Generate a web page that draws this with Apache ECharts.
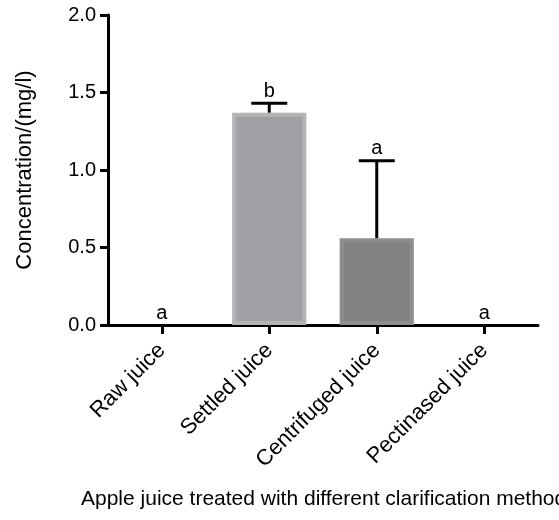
<!DOCTYPE html>
<html>
<head>
<meta charset="utf-8">
<script src="https://cdn.jsdelivr.net/npm/echarts@6/dist/echarts.min.js"></script>
<style>
  html, body { margin: 0; padding: 0; background: #fff; }
  #chart { width: 559px; height: 520px; }
</style>
</head>
<body>
<div id="chart"></div>
<script>
var categories = ["Raw juice", "Settled juice", "Centrifuged juice", "Pectinased juice"];
var means = [0, 1.37, 0.56, 0];
var errors = [0, 0.06, 0.5, 0];
var letters = ["a", "b", "a", "a"];
var yTicks = [0, 0.5, 1.0, 1.5, 2.0];

var barFill = ["#a0a0a4", "#a0a0a4", "#828282", "#828282"];
var barEdge = ["#b4b4b6", "#b4b4b6", "#8e8e8e", "#8e8e8e"];

var chart = echarts.init(document.getElementById("chart"));
var font = "Liberation Sans, Arial, sans-serif";
var fs = 20;
var fsBig = 22;

var option = {
  animation: false,
  textStyle: { fontFamily: font },
  grid: { left: 108, right: 21, top: 15, bottom: 195 },
  xAxis: {
    type: "category",
    data: categories,
    axisLine: { lineStyle: { color: "#000", width: 3 } },
    axisTick: { show: true, alignWithLabel: true, length: 9, lineStyle: { color: "#000", width: 3 } },
    axisLabel: { rotate: 45, margin: 22, color: "#000", fontSize: fsBig, fontFamily: font }
  },
  yAxis: {
    type: "value",
    min: yTicks[0],
    max: yTicks[yTicks.length - 1],
    interval: 0.5,
    name: "Concentration/(mg/l)",
    nameLocation: "middle",
    nameGap: 72,
    nameTextStyle: { color: "#000", fontSize: fsBig, fontFamily: font },
    splitLine: { show: false },
    axisLine: { show: true, lineStyle: { color: "#000", width: 3 } },
    axisTick: { show: true, length: 8, lineStyle: { color: "#000", width: 3 } },
    axisLabel: {
      margin: 12, color: "#000", fontSize: fs, fontFamily: font,
      formatter: function (v) { return v.toFixed(1); }
    }
  },
  series: [
    {
      type: "bar",
      barWidth: "69%",
      data: means.map(function (v, i) {
        return {
          value: v,
          itemStyle: { color: barFill[i], borderColor: barEdge[i], borderWidth: v > 0 ? 4 : 0 }
        };
      }),
      z: 2
    },
    {
      type: "custom",
      z: 5,
      data: means.map(function (v, i) { return [i, v, errors[i]]; }),
      renderItem: function (params, api) {
        var x = api.value(0), y = api.value(1), e = api.value(2);
        var p0 = api.coord([x, y]);
        var p1 = api.coord([x, y + e]);
        var half = 18;
        var children = [];
        var ls = { stroke: "#000", lineWidth: 3 };
        if (e > 0) {
          children.push({ type: "line", shape: { x1: p0[0], y1: p0[1], x2: p1[0], y2: p1[1] }, style: ls });
          children.push({ type: "line", shape: { x1: p1[0] - half, y1: p1[1], x2: p1[0] + half, y2: p1[1] }, style: ls });
        }
        children.push({
          type: "text",
          style: {
            text: letters[params.dataIndex],
            x: p1[0], y: p1[1] - 2,
            align: "center", verticalAlign: "bottom",
            fontSize: fs, fontFamily: font, fill: "#000"
          }
        });
        return { type: "group", children: children };
      }
    }
  ],
  graphic: [
    {
      type: "text",
      left: 81,
      top: 489,
      style: {
        text: "Apple juice treated with different clarification methods",
        fontSize: 21, fontFamily: font, fill: "#000"
      }
    }
  ]
};

chart.setOption(option);
window.addEventListener("resize", function () { chart.resize(); });
</script>
</body>
</html>
